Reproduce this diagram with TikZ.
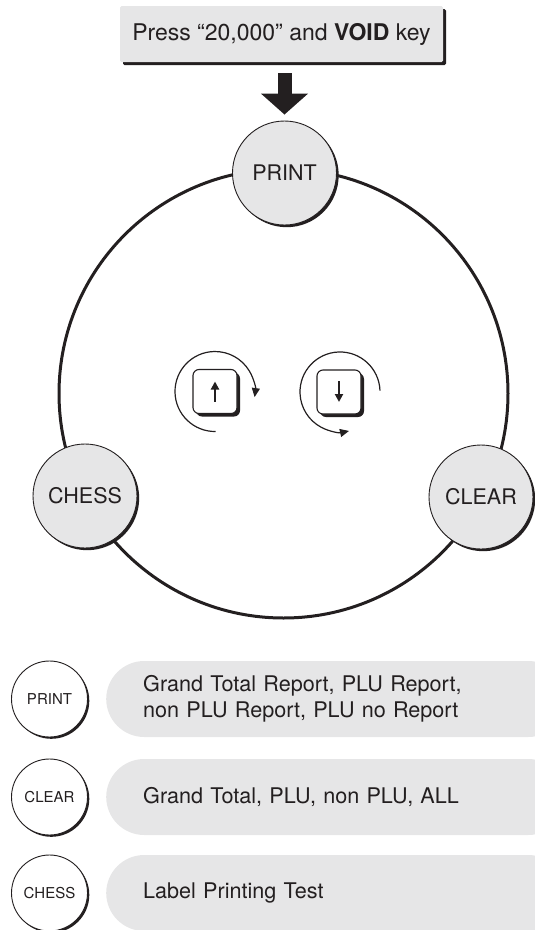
\documentclass[tikz,border=0pt]{standalone}
\usepackage{fontspec}
\setmainfont{TeX Gyre Heros}
\usetikzlibrary{arrows.meta,shadows}
\definecolor{pale}{HTML}{E6E6E7}
\definecolor{ink}{HTML}{231F20}
\begin{document}
\begin{tikzpicture}[x=1pt,y=1pt,
  every node/.style={text=ink},
  shad/.style={drop shadow={shadow xshift=#1,shadow yshift=-#1,fill=ink,opacity=1}},
  bigkey/.style={circle,fill=pale,draw=ink,line width=0.9,minimum size=104,inner sep=0,
    font=\fontsize{21.5}{24}\selectfont,shad=2.2pt},
  smallkey/.style={circle,fill=white,draw=ink,line width=0.9,minimum size=76,inner sep=0,
    font=\fontsize{15}{17}\selectfont,shad=1.8pt},
  pill/.style={rectangle,rounded corners=38,fill=pale,minimum height=76,text width=386,
    inner xsep=37,inner ysep=0,align=left,anchor=west,font=\fontsize{21.6}{26}\selectfont},
  topbox/.style={rectangle,rounded corners=1.5,fill=pale,minimum width=323,minimum height=56,
    inner sep=0,font=\fontsize{23}{26}\selectfont,shad=3pt},
  arrowkey/.style={rectangle,rounded corners=6,fill=white,draw=ink,line width=1.1,
    minimum size=44,inner sep=0,shad=3pt},
  keyarc/.style={draw=ink,line width=1.2,-{Triangle[length=9,width=8]}},
  inarr/.style={draw=ink,line width=2,-{Triangle[length=8,width=8]}},
  bigarr/.style={draw=ink,line width=14,-{Triangle[length=21,width=46]}}
]
\useasboundingbox (0,0) rectangle (535,-930);
\clip (0,0) rectangle (535,-930);

% top instruction
\node[topbox] (top) at (281.5,-34) {Press “20,000” and \textbf{VOID} key};

% ring
\node[circle,draw=ink,line width=3,minimum size=449,inner sep=0] (ring) at (283.5,-393.5) {};

% keys on the ring
\node[bigkey] (print) at (284.5,-173) {PRINT};
\node[bigkey] (chess) at (85,-496) {CHESS};
\node[bigkey] (clear) at (481,-497) {CLEAR};

% big arrow
\draw[bigarr,shorten <=11,shorten >=6] (print.north |- top.south) -- (print.north);

% arrow keys
\node[arrowkey] (k1) at (215,-391.5) {};
\node[arrowkey] (k2) at (339,-392) {};
\draw[inarr] ([yshift=-10]k1.center) -- ([yshift=10]k1.center);
\draw[inarr] ([yshift=11]k2.center) -- ([yshift=-10]k2.center);
\draw[keyarc] ([shift={(271:40)}]k1.center) arc[start angle=271,end angle=-8,radius=40];
\draw[keyarc] ([shift={(2:41)}]k2.center) arc[start angle=2,end angle=283,radius=40];

% legend
\node[smallkey] (lp) at (49.5,-699) {PRINT};
\node[smallkey] (lc) at (49.5,-797) {CLEAR};
\node[smallkey] (lh) at (49.5,-893) {CHESS};
\node[pill] (p1) at (106,-699) {Grand Total Report, PLU Report,\\non PLU Report, PLU no Report};
\node[pill] (p2) at (106,-797) {Grand Total, PLU, non PLU, ALL};
\node[pill] (p3) at (106,-893) {Label Printing Test};
\end{tikzpicture}
\end{document}
